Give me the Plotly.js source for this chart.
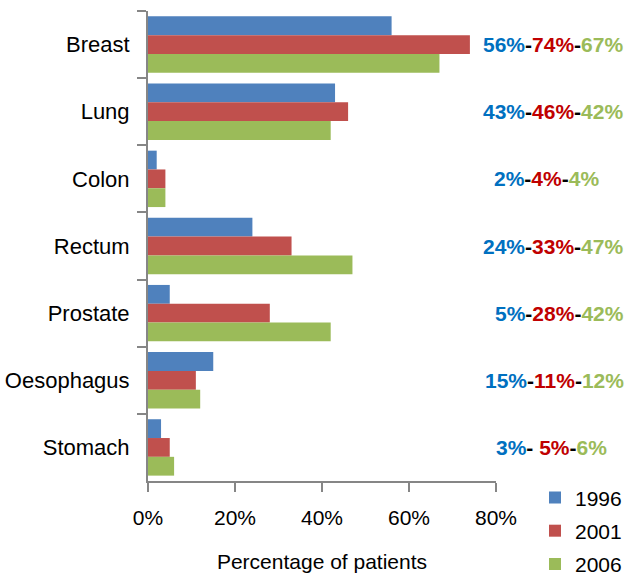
<!DOCTYPE html>
<html>
<head>
<meta charset="utf-8">
<script src="https://cdn.plot.ly/plotly-3.0.1.min.js"></script>
<style>html,body{margin:0;padding:0;background:#fff;}#chart{width:625px;height:575px;}</style>
</head>
<body>
<div id="chart"></div>
<script>
const categories = ["Breast", "Lung", "Colon", "Rectum", "Prostate", "Oesophagus", "Stomach"];
const years = ["1996", "2001", "2006"];
const values1996 = [56, 43, 2, 24, 5, 15, 3];
const values2001 = [74, 46, 4, 33, 28, 11, 5];
const values2006 = [67, 42, 4, 47, 42, 12, 6];
const xTickVals = [0, 20, 40, 60, 80];
const xTickText = ["0%", "20%", "40%", "60%", "80%"];

const barColors = ["#4F81BD", "#C0504D", "#9BBB59"];
const labelColors = ["#0070C0", "#C00000", "#9BBB59"];
const FONT = "'Liberation Sans', Arial, sans-serif";

const series = [values1996, values2001, values2006];
const traces = series.map((vals, i) => ({
  type: "bar",
  orientation: "h",
  name: years[i],
  legendgroup: years[i],
  y: categories,
  x: vals,
  marker: {color: barColors[i], line: {width: 0}},
  hoverinfo: "none"
}));

// start positions (paper px) of right-hand labels
const labelLeftPx = [481, 481, 492, 481, 493, 483, 494];
const plotLeft = 148, plotRight = 496;
const annotations = categories.map((c, k) => {
  const parts = series.map((s, i) => `<span style="color:${labelColors[i]}">${s[k]}%</span>`);
  const sep = '<span style="color:#000">-</span>';
  const sep2 = (c === "Stomach") ? '<span style="color:#000">- </span>' : sep;
  return {
    xref: "paper", yref: "y",
    x: (labelLeftPx[k] - plotLeft) / (plotRight - plotLeft),
    y: c,
    xanchor: "left", yanchor: "middle",
    text: "<b>" + parts[0] + sep2 + parts[1] + sep + parts[2] + "</b>",
    showarrow: false,
    font: {family: FONT, size: 21}
  };
});

const layout = {
  width: 625, height: 575,
  margin: {l: 148, r: 129, t: 11, b: 94, pad: 0, autoexpand: false},
  paper_bgcolor: "#fff", plot_bgcolor: "#fff",
  font: {family: FONT, size: 21, color: "#000"},
  barmode: "group",
  bargap: 0.16,
  bargroupgap: 0,
  showlegend: true,
  legend: {
    x: (535 - plotLeft) / (plotRight - plotLeft), xanchor: "left", xref: "paper",
    y: 0.008, yanchor: "top",
    font: {family: FONT, size: 21, color: "#000"},
    itemwidth: 30,
    bgcolor: "rgba(0,0,0,0)",
    traceorder: "grouped",
    tracegroupgap: 3
  },
  xaxis: {
    range: [0, 80],
    tickvals: xTickVals,
    ticktext: xTickText,
    showgrid: false,
    zeroline: false,
    showline: true, linecolor: "#868686", linewidth: 2,
    ticks: "outside", ticklen: 9, tickwidth: 2, tickcolor: "#868686",
    tickfont: {family: FONT, size: 21},
    ticklabelstandoff: 8,
    title: {text: "Percentage of patients", font: {family: FONT, size: 21}, standoff: 26},
    automargin: false,
    fixedrange: true
  },
  yaxis: {
    autorange: "reversed",
    type: "category",
    showgrid: false,
    showline: true, linecolor: "#868686", linewidth: 2,
    ticks: "outside", tickson: "boundaries", ticklen: 9, tickwidth: 2, tickcolor: "#868686",
    tickfont: {family: FONT, size: 22},
    ticklabelstandoff: 12,
    automargin: false,
    fixedrange: true
  },
  annotations: annotations
};

Plotly.newPlot("chart", traces, layout, {displayModeBar: false, staticPlot: true});
</script>
</body>
</html>
